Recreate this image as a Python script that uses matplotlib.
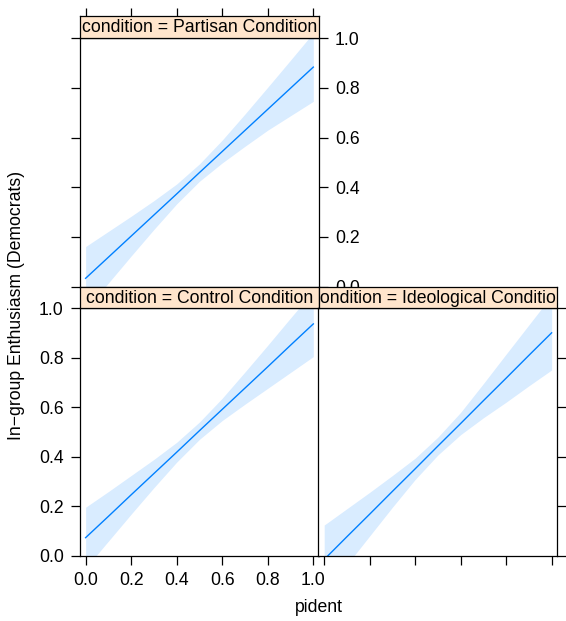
import matplotlib
matplotlib.use("Agg")
from matplotlib import pyplot as plt
import numpy as np

plt.rcParams['font.family'] = ['Liberation Sans', 'DejaVu Sans']

W, H = 566, 621
FS = 12.7

# pident values where the effect was evaluated
pident = [0.0, 0.1, 0.2, 0.3, 0.4, 0.5, 0.6, 0.7, 0.8, 0.9, 1.0]

# Partisan Condition
partisan_fit = [0.033, 0.118, 0.203, 0.288, 0.373, 0.459, 0.544, 0.629, 0.714, 0.799, 0.884]
partisan_lower = [-0.095, 0.014, 0.123, 0.230, 0.333, 0.424, 0.498, 0.565, 0.630, 0.688, 0.746]
partisan_upper = [0.161, 0.222, 0.283, 0.346, 0.413, 0.494, 0.590, 0.695, 0.803, 0.912, 1.022]

# Control Condition
control_fit = [0.074, 0.160, 0.247, 0.333, 0.419, 0.506, 0.592, 0.678, 0.764, 0.851, 0.937]
control_lower = [-0.049, 0.060, 0.169, 0.276, 0.379, 0.471, 0.547, 0.613, 0.677, 0.741, 0.805]
control_upper = [0.197, 0.260, 0.325, 0.390, 0.459, 0.541, 0.637, 0.743, 0.851, 0.961, 1.069]

# Ideological Condition
ideo_fit = [-0.014, 0.078, 0.169, 0.261, 0.352, 0.444, 0.535, 0.627, 0.718, 0.810, 0.901]
ideo_lower = [-0.153, -0.035, 0.081, 0.197, 0.309, 0.408, 0.490, 0.558, 0.621, 0.687, 0.751]
ideo_upper = [0.125, 0.191, 0.257, 0.325, 0.395, 0.480, 0.580, 0.696, 0.815, 0.933, 1.051]

ticks = [0.0, 0.2, 0.4, 0.6, 0.8, 1.0]
tick_labels = ['0.0', '0.2', '0.4', '0.6', '0.8', '1.0']

line_col = '#0080FF'
band_col = '#D9ECFF'
strip_col = '#FFE5CC'

fig = plt.figure(figsize=(W / 100, H / 100), dpi=100)


def px_axes(x0, y0, x1, y1):
    # pixel box (top-left origin) -> figure axes
    return fig.add_axes([x0 / W, 1 - y1 / H, (x1 - x0) / W, (y1 - y0) / H])


def panel(box, x, fit, lo, hi):
    ax = px_axes(*box)
    ax.fill_between(x, lo, hi, color=band_col, lw=0)
    ax.plot(x, fit, color=line_col, lw=1)
    ax.set_xlim(-0.026, 1.025)
    ax.set_ylim(0, 1)
    ax.set_xticks(ticks)
    ax.set_yticks(ticks)
    ax.set_xticklabels(tick_labels)
    ax.set_yticklabels(tick_labels)
    for s in ax.spines.values():
        s.set_linewidth(0.9)
        s.set_color('black')
    ax.tick_params(direction='out', length=6.5, width=0.9, labelsize=FS, pad=5,
                   left=False, right=False, top=False, bottom=False,
                   labelleft=False, labelright=False, labelbottom=False, labeltop=False)
    return ax


def strip(box, label, top_ticks=False):
    ax = px_axes(*box)
    ax.set_facecolor(strip_col)
    ax.set_xlim(-0.026, 1.025)
    ax.set_ylim(0, 1)
    for s in ax.spines.values():
        s.set_linewidth(0.9)
        s.set_color('black')
    ax.set_yticks([])
    if top_ticks:
        ax.set_xticks(ticks)
        ax.tick_params(axis='x', direction='out', length=6, width=0.9,
                       top=True, bottom=False, labelbottom=False, labeltop=False)
    else:
        ax.set_xticks([])
    ax.text(0.5, 0.47, label, transform=ax.transAxes, ha='center', va='center',
            fontsize=FS, clip_on=True)
    return ax


# top-left: Partisan
ax_p = panel((79.7, 38.3, 319, 286.5), pident, partisan_fit, partisan_lower, partisan_upper)
ax_p.tick_params(left=True, right=True, labelright=True)
strip((79.7, 16, 319, 38.3), 'condition = Partisan Condition', top_ticks=True)

# bottom-left: Control
ax_c = panel((79.7, 308.3, 319, 556), pident, control_fit, control_lower, control_upper)
ax_c.tick_params(left=True, labelleft=True, bottom=True, labelbottom=True)
strip((79.7, 286.5, 319, 308.3), 'condition = Control Condition')

# bottom-right: Ideological
ax_i = panel((318.3, 308.3, 557.3, 556), pident, ideo_fit, ideo_lower, ideo_upper)
ax_i.tick_params(bottom=True, right=True)
strip((319, 286.5, 557.3, 308.3), 'condition = Ideological Condition')

fig.text(319 / W, 1 - 607 / H, 'pident', ha='center', va='center', fontsize=FS)
fig.text(17 / W, 1 - 305 / H, 'In\u2212group Enthusiasm (Democrats)', ha='center', va='center',
         rotation=90, fontsize=FS)

fig.savefig('out.png', dpi=100)
